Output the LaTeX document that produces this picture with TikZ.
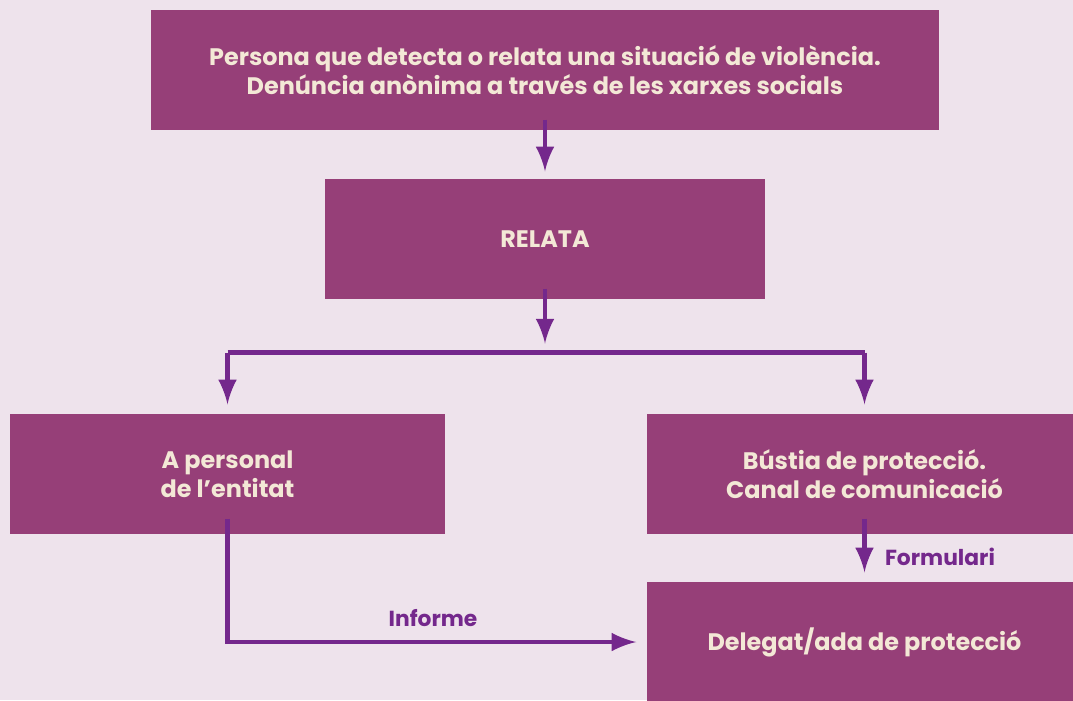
\documentclass[tikz,border=0pt]{standalone}
\usepackage{fontspec}
\setmainfont{Poppins}
\definecolor{bgc}{HTML}{EEE3EC}
\definecolor{boxc}{HTML}{963F78}
\definecolor{txtc}{HTML}{F3E8D6}
\definecolor{arrc}{HTML}{74288C}
\tikzset{
	box/.style={fill=boxc, text=txtc, align=center, inner sep=0pt, minimum height=1.20cm, font=\fontsize{6.8}{8.3}\selectfont\bfseries},
	link/.style={draw=arrc, line width=1.4pt},
	flow/.style={link, -latex},
	tag/.style={text=arrc, font=\fontsize{6.2}{7.5}\selectfont\bfseries},
}
\begin{document}
\begin{tikzpicture}
	\useasboundingbox[fill=bgc] (0,0) rectangle (10.73,-7.00);
	\node[box, minimum width=7.88cm] (persona) at (5.45,-0.70) {Persona que detecta o relata una situació de violència.\\Denúncia anònima a través de les xarxes socials};
	\node[box, minimum width=4.40cm] (relata) at (5.45,-2.39) {RELATA};
	\node[box, minimum width=4.35cm] (entitat) at (2.275,-4.74) {A personal\\de l’entitat};
	\node[box, minimum width=4.35cm] (bustia) at (8.645,-4.74) {Bústia de protecció.\\Canal de comunicació};
	\node[box, minimum width=4.35cm] (delegat) at (8.645,-6.42) {Delegat/ada de protecció};
	\coordinate (lcorn) at (2.275,-3.525);
	\coordinate (rcorn) at (8.645,-3.525);
	\draw[flow, shorten >=0.07cm] ([yshift=0.11cm]persona.south) -- (relata.north);
	\draw[flow, shorten >=0.09cm] ([yshift=0.11cm]relata.south) -- (relata.south |- lcorn);
	\draw[link] (lcorn) -- (rcorn);
	\draw[flow, shorten >=0.09cm] (lcorn) -- (entitat.north);
	\draw[flow, shorten >=0.09cm] (rcorn) -- (bustia.north);
	\draw[flow, shorten >=0.10cm] ([yshift=0.16cm]entitat.south) |- (delegat.west);
	\draw[flow, shorten >=0.09cm] ([yshift=0.16cm]bustia.south) -- (delegat.north);
	\node[tag] (informe) at (4.33,-6.18) {Informe};
	\node[tag] (formulari) at (9.40,-5.57) {Formulari};
\end{tikzpicture}
\end{document}
